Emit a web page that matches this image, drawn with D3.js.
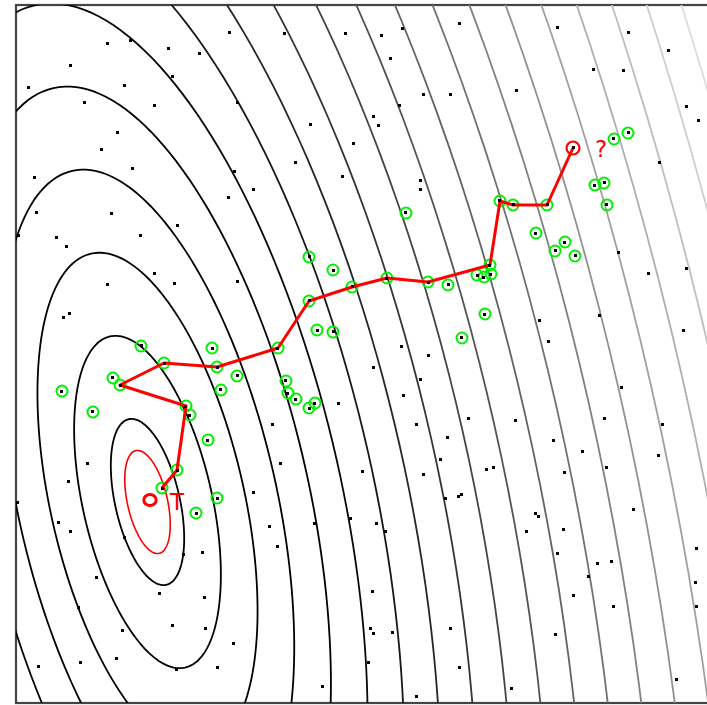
<!DOCTYPE html>
<html>
<head>
<meta charset="utf-8">
<script src="https://cdn.jsdelivr.net/npm/d3@7"></script>
<style>
  html, body { margin: 0; padding: 0; background: #fff; }
  svg { display: block; }
</style>
</head>
<body>
<svg id="chart"></svg>
<script>
// quadratic cost surface: centre, semi-axes per contour step, tilt (degrees, data space)
const ellipseCenter = [13.15, 20.1];
const ellipseAxes = [8.49, 3.23];
const ellipseAngle = -77.2;
const contourLevels = [1, 2, 3, 4, 5, 6, 7, 8, 9, 10, 11, 12, 13, 14, 15, 16, 17, 18, 19, 20];
const targetLevel = 0.62;

// search path, start -> end
const pathX = [14.6, 16.1, 17.0, 10.4, 14.8, 20.1, 26.2, 29.3, 33.6, 37.1, 41.2, 47.4, 48.4, 49.7, 53.1, 55.7];
const pathY = [21.5, 23.3, 29.7, 31.8, 34.0, 33.6, 35.5, 40.2, 41.6, 42.5, 42.1, 43.8, 50.2, 49.8, 49.8, 55.5];

// other candidates marked in green
const greenX = [29.3, 31.7, 43.2, 46.1, 46.8, 47.5, 30.1, 31.7, 44.6, 46.9, 22.1, 27.0, 27.2, 28.0, 29.3, 29.9,
  12.5, 19.6, 20.5, 9.7, 4.6, 7.7, 17.4, 19.2, 20.1, 18.0, 39.0, 52.0, 54.9, 53.9, 55.9, 59.1, 57.9, 58.8, 59.8, 61.2];
const greenY = [44.6, 43.3, 41.8, 42.8, 42.6, 42.9, 37.3, 37.1, 36.5, 38.9, 32.7, 32.2, 31.0, 30.4, 29.5, 30.0,
  35.7, 35.5, 31.3, 32.5, 31.2, 29.1, 28.8, 26.3, 20.5, 19.0, 49.0, 47.0, 46.1, 45.2, 44.7, 49.8, 51.8, 52.0, 56.4, 57.0];

// plain sample points
const dotX = [9.1, 11.4, 15.2, 18.4, 21.4, 5.4, 1.2, 10.8, 15.6, 6.8, 13.8, 22.2, 10.2, 8.6, 11.6, 1.8, 21.9, 21.2, 2.0, 9.6, 16.2, 4.0, 12.4,
  26.8, 33.0, 36.5, 38.6, 44.4, 37.5, 40.8, 43.4, 38.4, 35.8, 36.2, 29.4, 33.8, 28.0, 32.6, 23.8, 40.5, 40.5,
  54.2, 61.3, 65.3, 57.7, 60.7, 50.0, 67.1, 68.3, 64.3, 60.2, 63.2,
  22.2, 38.5, 41.3, 35.8, 40.5, 38.7, 32.2, 45.2, 25.7, 40.0, 43.1, 26.4, 42.4,
  0.2, 5.0, 13.8, 15.8, 9.2, 5.3, 4.8, 7.2,
  10.9, 18.6, 5.2, 4.3, 5.4, 0.1, 8.0, 6.2, 16.7, 14.4, 18.8, 15.6, 19.0, 10.6, 21.7, 10.0, 6.5, 2.2, 16.0, 20.1,
  34.6, 40.8, 23.8, 43.0, 44.2, 44.6, 25.4, 29.8, 33.4, 36.0, 37.0, 26.2, 35.6, 35.4, 35.8, 37.6, 43.4, 35.2, 44.4, 30.6, 40.1,
  47.1, 47.8, 54.8, 59.1, 51.9, 52.3, 51.1, 54.7, 61.8, 54.1, 58.2, 59.5, 57.3, 68.1, 67.9, 55.8, 59.7, 68.1, 53.9, 49.5, 66.1,
  67.0, 52.4, 58.4, 53.2, 60.5, 58.8, 49.9, 64.7, 53.7, 64.2, 56.6, 66.7];
const dotY = [66.0, 66.2, 65.4, 64.9, 67.0, 63.8, 61.5, 61.8, 62.6, 60.0, 59.8, 60.0, 57.0, 55.4, 53.5, 52.5, 53.1, 50.6, 49.0, 48.9, 47.8, 46.6, 46.8,
  66.9, 66.9, 66.8, 67.4, 67.9, 64.4, 60.8, 60.8, 59.8, 58.6, 57.8, 57.9, 55.9, 54.0, 52.6, 51.4, 52.2, 51.4,
  67.6, 67.0, 65.2, 63.4, 63.2, 61.2, 59.6, 58.2, 54.0, 45.0, 43.0,
  42.2, 35.6, 34.8, 33.6, 32.4, 30.8, 30.0, 28.4, 27.8, 27.8, 26.6, 24.0, 24.3,
  46.8, 45.6, 43.0, 42.0, 41.8, 39.0, 38.6, 24.0,
  16.6, 15.1, 22.1, 18.1, 17.1, 20.1, 12.6, 9.6, 14.9, 11.0, 10.6, 7.8, 7.5, 7.3, 6.0, 4.5, 4.1, 3.7, 3.4, 3.6,
  23.2, 22.8, 21.1, 20.5, 20.7, 20.9, 17.7, 17.9, 18.5, 18.0, 17.2, 15.7, 11.1, 7.5, 7.0, 7.1, 7.5, 4.1, 3.6, 1.7, 0.7,
  23.4, 23.6, 23.0, 23.6, 19.0, 18.6, 17.1, 17.4, 19.4, 15.0, 14.0, 14.2, 12.7, 15.5, 12.1, 10.8, 9.7, 9.7, 6.9, 1.5, 2.4,
  43.5, 38.3, 38.7, 36.1, 31.5, 28.5, 28.2, 27.8, 26.2, 24.8, 25.1, 37.3];

// text marks
const targetLabel = { text: "T", x: 16.1, y: 19.3 };
const queryLabel = { text: "?", x: 58.5, y: 54.6 };
const targetMark = [13.4, 20.3];

const width = 707, height = 705;

const x = d3.scaleLinear().domain([0, 69.4]).range([16, 710]);
const y = d3.scaleLinear().domain([0, 69.8]).range([703, 5]);

const grey = d3.scaleLinear().domain([5.5, 21]).range(["#000000", "#ececec"]).clamp(true);

const svg = d3.select("#chart")
  .attr("width", width)
  .attr("height", height);

svg.append("rect")
  .attr("width", width)
  .attr("height", height)
  .attr("fill", "#fff");

svg.append("clipPath")
  .attr("id", "plot-clip")
  .append("rect")
  .attr("x", x(0))
  .attr("y", y(69.8))
  .attr("width", x(69.4) - x(0))
  .attr("height", y(0) - y(69.8));

// frame
svg.append("rect")
  .attr("x", x(0))
  .attr("y", y(69.8))
  .attr("width", x(69.4) - x(0))
  .attr("height", y(0) - y(69.8))
  .attr("fill", "none")
  .attr("stroke", "#444")
  .attr("stroke-width", 2.2);

// ellipse outline at a given level, in data units
const phi = ellipseAngle * Math.PI / 180;
const steps = d3.range(0, 360, 2).map(d => d * Math.PI / 180);
function ellipsePoints(k) {
  return steps.map(t => {
    const u = k * ellipseAxes[0] * Math.cos(t);
    const v = k * ellipseAxes[1] * Math.sin(t);
    return [ellipseCenter[0] + u * Math.cos(phi) - v * Math.sin(phi),
            ellipseCenter[1] + u * Math.sin(phi) + v * Math.cos(phi)];
  });
}

const line = d3.line()
  .x(d => x(d[0]))
  .y(d => y(d[1]));

const closed = d3.line()
  .x(d => x(d[0]))
  .y(d => y(d[1]))
  .curve(d3.curveLinearClosed);

const contours = svg.append("g").attr("clip-path", "url(#plot-clip)");

contours.selectAll("path.level")
  .data(contourLevels)
  .enter()
  .append("path")
  .attr("class", "level")
  .attr("d", k => closed(ellipsePoints(k)))
  .attr("fill", "none")
  .attr("stroke", k => grey(k))
  .attr("stroke-width", 1.8);

contours.append("path")
  .attr("d", closed(ellipsePoints(targetLevel)))
  .attr("fill", "none")
  .attr("stroke", "#ff0000")
  .attr("stroke-width", 1.6);

const green = greenX.map((d, i) => [d, greenY[i]]);
const route = pathX.map((d, i) => [d, pathY[i]]);
const dots = dotX.map((d, i) => [d, dotY[i]]);

// green rings around candidates and visited points
svg.selectAll("circle.cand")
  .data(green.concat(route.slice(0, -1)))
  .enter()
  .append("circle")
  .attr("class", "cand")
  .attr("cx", d => x(d[0]))
  .attr("cy", d => y(d[1]))
  .attr("r", 5.5)
  .attr("fill", "none")
  .attr("stroke", "#00ee00")
  .attr("stroke-width", 2);

svg.append("path")
  .datum(route)
  .attr("d", line)
  .attr("fill", "none")
  .attr("stroke", "#ff0000")
  .attr("stroke-width", 3)
  .attr("stroke-linejoin", "round");

svg.selectAll("rect.dot")
  .data(dots.concat(green, route))
  .enter()
  .append("rect")
  .attr("class", "dot")
  .attr("x", d => Math.round(x(d[0]) - 1.5))
  .attr("y", d => Math.round(y(d[1]) - 1.5))
  .attr("width", 3)
  .attr("height", 3)
  .attr("fill", "#000");

// query point
svg.append("circle")
  .datum(route[route.length - 1])
  .attr("cx", d => x(d[0]))
  .attr("cy", d => y(d[1]))
  .attr("r", 6.5)
  .attr("fill", "none")
  .attr("stroke", "#ff0000")
  .attr("stroke-width", 2.2);

// target mark
svg.append("ellipse")
  .attr("cx", x(targetMark[0]))
  .attr("cy", y(targetMark[1]))
  .attr("rx", 6.2)
  .attr("ry", 5.6)
  .attr("fill", "none")
  .attr("stroke", "#ff0000")
  .attr("stroke-width", 3);

svg.selectAll("text.label")
  .data([targetLabel, queryLabel])
  .enter()
  .append("text")
  .attr("class", "label")
  .attr("x", d => x(d.x))
  .attr("y", d => y(d.y))
  .attr("text-anchor", "middle")
  .attr("font-family", "DejaVu Sans, sans-serif")
  .attr("font-size", 23)
  .attr("fill", "#ff0000")
  .text(d => d.text);
</script>
</body>
</html>
